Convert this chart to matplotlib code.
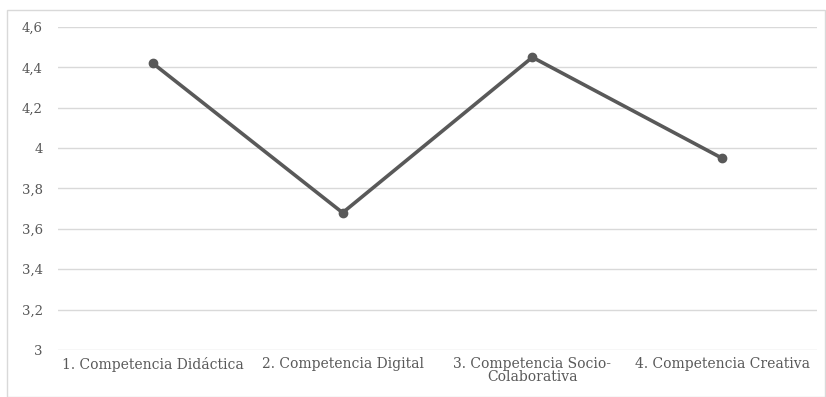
import matplotlib.pyplot as plt
from matplotlib.patches import Rectangle

categories = [
    "1. Competencia Didáctica",
    "2. Competencia Digital",
    "3. Competencia Socio-\nColaborativa",
    "4. Competencia Creativa",
]
values = [4.42, 3.68, 4.45, 3.95]
y_ticks = [3.0, 3.2, 3.4, 3.6, 3.8, 4.0, 4.2, 4.4, 4.6]
y_labels = ["3", "3,2", "3,4", "3,6", "3,8", "4", "4,2", "4,4", "4,6"]

W, H = 826, 397
fig = plt.figure(figsize=(W / 100, H / 100), dpi=100)
ax = fig.add_axes([58 / W, 1 - 350 / H, (817 - 58) / W, (350 - 27) / H])

text_color = "#595959"
font = ["DejaVu Serif"]

xs = list(range(len(categories)))
ax.plot(xs, values, color="#595959", linewidth=2.6, marker="o", markersize=6,
        solid_capstyle="round", zorder=3)

ax.set_xlim(-0.5, len(categories) - 0.5)
ax.set_ylim(3.0, 4.6)
ax.set_yticks(y_ticks)
ax.set_yticklabels(y_labels, family=font, fontsize=9.5, color=text_color)
ax.set_xticks(xs)
ax.set_xticklabels(categories, family=font, fontsize=10, color=text_color,
                   linespacing=0.95)
ax.tick_params(axis="y", length=0, pad=11)
ax.tick_params(axis="x", length=0, pad=5)
ax.yaxis.grid(True, color="#d9d9d9", linewidth=1.0)
ax.set_axisbelow(True)
for s in ax.spines.values():
    s.set_visible(False)

# outer chart border
fig.patches.append(Rectangle((7.5 / W, 0), (825 - 7.5) / W, 1 - 9.5 / H,
                             transform=fig.transFigure, fill=False,
                             edgecolor="#d9d9d9", linewidth=1.0))

fig.savefig("out.png", dpi=100)
